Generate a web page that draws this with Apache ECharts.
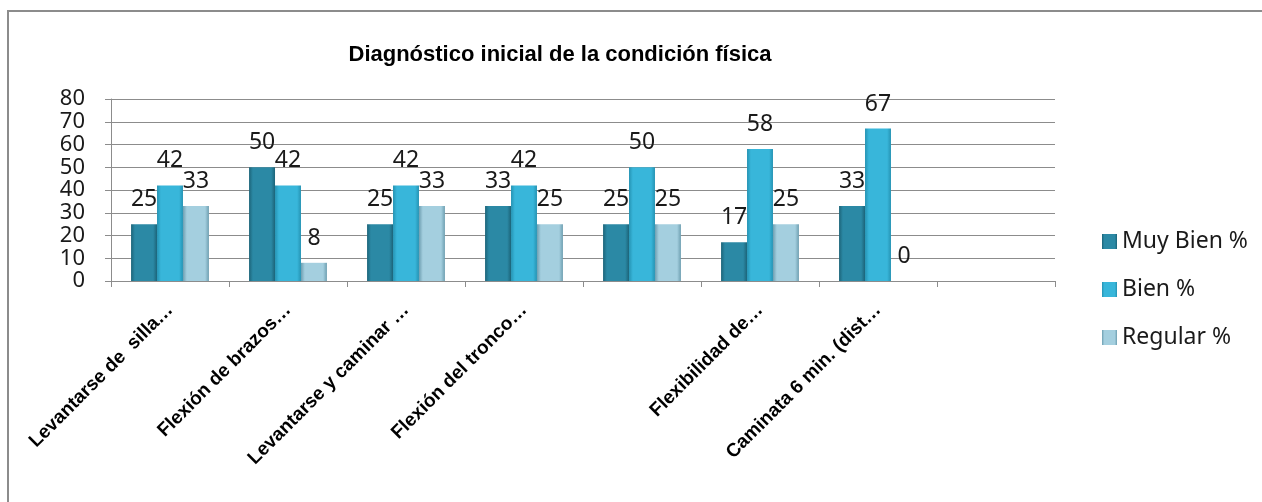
<!DOCTYPE html>
<html>
<head>
<meta charset="utf-8">
<script src="https://cdn.jsdelivr.net/npm/echarts@6/dist/echarts.min.js"></script>
<style>
  html, body { margin: 0; padding: 0; background: #fff; }
  #chart { width: 1262px; height: 502px; }
</style>
</head>
<body>
<div id="chart"></div>
<script>
// categorías (las vacías también aparecen en el eje del original)
const categories = [
  'Levantarse de  silla…',
  'Flexión de brazos…',
  'Levantarse y caminar …',
  'Flexión del tronco…',
  '',
  'Flexibilidad de…',
  'Caminata 6 min. (dist…',
  ''
]
const muyBien = [25, 50, 25, 33, 25, 17, 33, null]
const bien = [42, 42, 42, 42, 50, 58, 67, null]
const regular = [33, 8, 33, 25, 25, 25, 0, null]
const yTicks = [0, 10, 20, 30, 40, 50, 60, 70, 80]

// degradado horizontal para imitar el bisel de Excel
const bevel = (edge, mid) => new echarts.graphic.LinearGradient(0, 0, 1, 0, [
  { offset: 0, color: edge },
  { offset: 0.15, color: mid },
  { offset: 0.85, color: mid },
  { offset: 1, color: edge }
])

const labelStyle = {
  show: true,
  position: 'top',
  distance: 13,
  fontFamily: 'Noto Sans',
  fontSize: 23,
  color: '#1a1a1a'
}

const mkSeries = (name, data, edge, mid) => ({
  name: name,
  type: 'bar',
  data: data,
  barGap: '0%',
  barCategoryGap: '34%',
  itemStyle: { color: bevel(edge, mid) },
  label: labelStyle
})

const chart = echarts.init(document.getElementById('chart'))
chart.setOption({
  animation: false,
  title: {
    text: 'Diagnóstico inicial de la condición física',
    left: 555,
    textAlign: 'center',
    top: 39,
    textStyle: { fontFamily: 'Liberation Sans', fontSize: 22, fontWeight: 'bold', color: '#000' }
  },
  graphic: [{
    type: 'polyline',
    shape: { points: [[8, 502], [8, 11], [1262, 11]] },
    style: { stroke: '#8c8c8c', lineWidth: 2, fill: null },
    silent: true
  }],
  legend: {
    orient: 'vertical',
    left: 1097,
    top: 225,
    itemWidth: 15,
    itemHeight: 15,
    itemGap: 25,
    icon: 'rect',
    textStyle: { fontFamily: 'Noto Sans', fontSize: 23, color: '#1a1a1a' }
  },
  grid: { left: 111, right: 207, top: 99, bottom: 221 },
  xAxis: {
    type: 'category',
    data: categories,
    axisLine: { lineStyle: { color: '#8c8c8c' } },
    axisTick: { show: true, length: 6, lineStyle: { color: '#8c8c8c' } },
    axisLabel: {
      rotate: 45,
      interval: 0,
      margin: 26,
      fontFamily: 'Liberation Sans',
      fontWeight: 'bold',
      fontSize: 19,
      color: '#000'
    }
  },
  yAxis: {
    type: 'value',
    min: yTicks[0],
    max: yTicks[yTicks.length - 1],
    interval: 10,
    axisLine: { show: true, lineStyle: { color: '#8c8c8c' } },
    axisTick: { show: true, length: 6, lineStyle: { color: '#8c8c8c' } },
    splitLine: { lineStyle: { color: '#8c8c8c', width: 1 } },
    axisLabel: {
      fontFamily: 'Noto Sans',
      fontSize: 22,
      lineHeight: 20,
      color: '#1a1a1a',
      margin: 26,
      showMinLabel: true,
      showMaxLabel: true,
      hideOverlap: false
    }
  },
  series: [
    mkSeries('Muy Bien %', muyBien, '#1c6479', '#2b89a5'),
    mkSeries('Bien %', bien, '#2593b3', '#38b6da'),
    mkSeries('Regular %', regular, '#6e9fb1', '#a4cfdf')
  ]
})
</script>
</body>
</html>
